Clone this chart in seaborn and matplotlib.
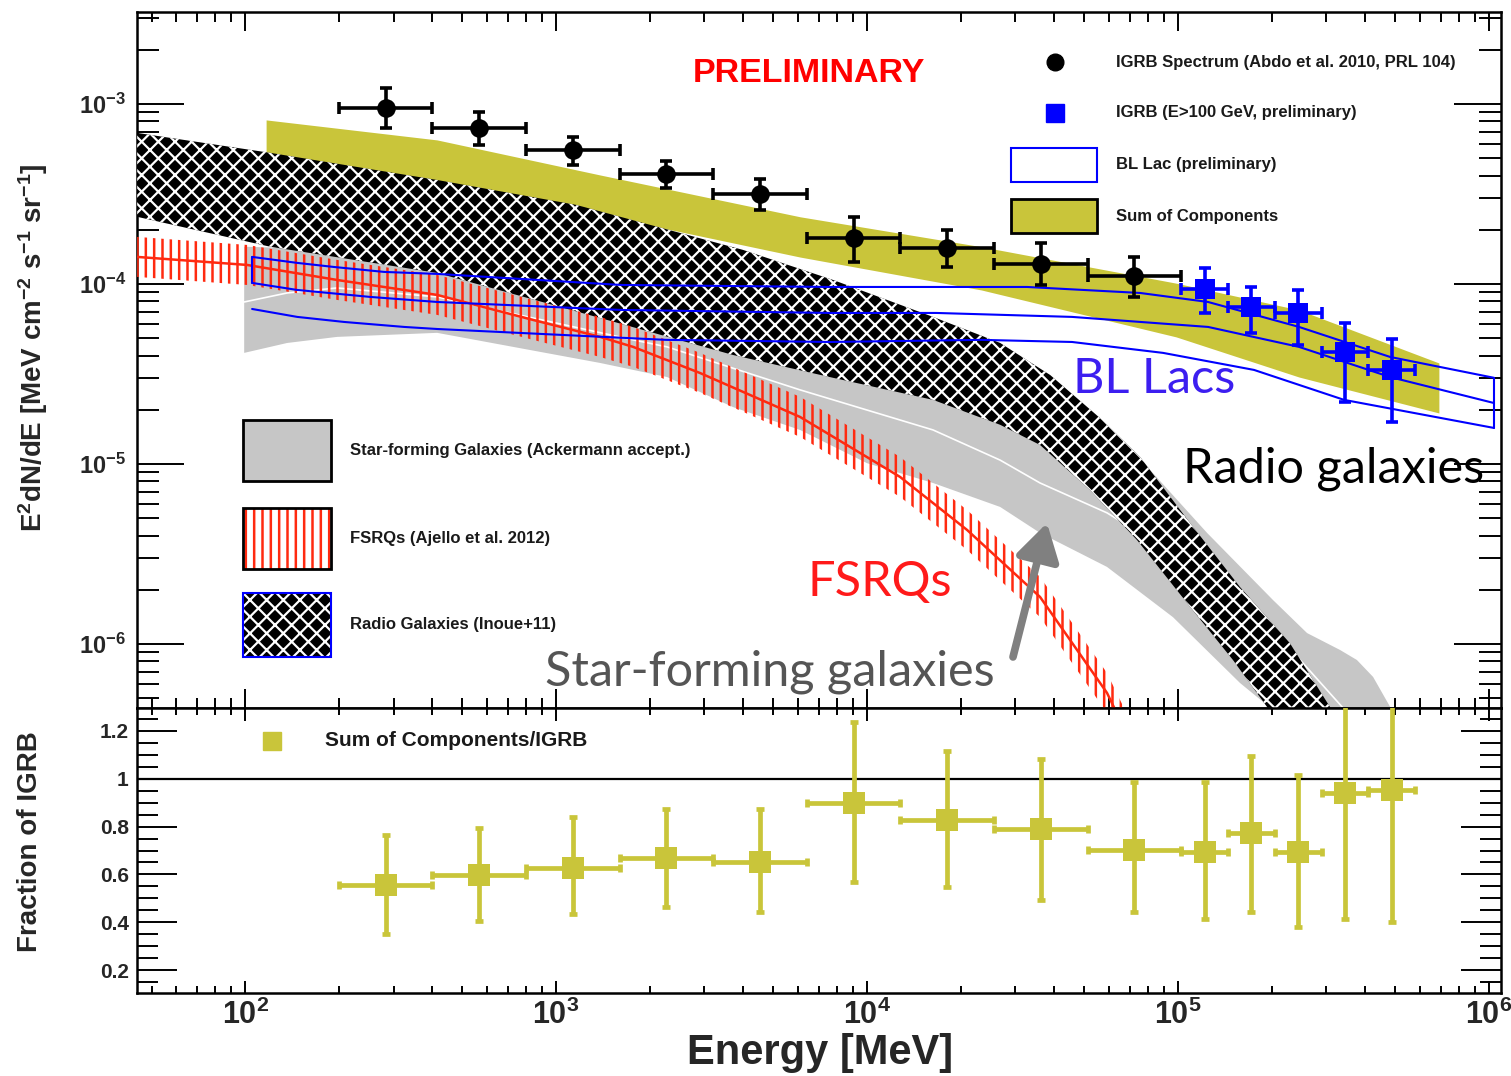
import numpy as np
import pandas as pd
import matplotlib
matplotlib.use("Agg")
import matplotlib.pyplot as plt
import seaborn as sns
from matplotlib.patches import Rectangle
from matplotlib.lines import Line2D
from matplotlib.ticker import LogLocator, NullFormatter, MultipleLocator

# ---------------------------------------------------------------- data
# IGRB spectrum (Abdo et al. 2010): energy bins [MeV] and E^2 dN/dE
igrb_lo = [200, 400, 800, 1600, 3200, 6400, 12800, 25600, 51200]
igrb_hi = [400, 800, 1600, 3200, 6400, 12800, 25600, 51200, 102400]
igrb_E = [283, 566, 1131, 2263, 4525, 9051, 18102, 36204, 72408]
igrb_F = [9.5e-4, 7.36e-4, 5.55e-4, 4.08e-4, 3.16e-4, 1.80e-4, 1.585e-4, 1.29e-4, 1.107e-4]
igrb_Fhi = [1.23e-3, 9.0e-4, 6.56e-4, 4.82e-4, 3.83e-4, 2.35e-4, 2.0e-4, 1.69e-4, 1.41e-4]
igrb_Flo = [7.36e-4, 5.92e-4, 4.58e-4, 3.41e-4, 2.58e-4, 1.32e-4, 1.24e-4, 9.9e-5, 8.5e-5]

# IGRB E>100 GeV (preliminary)
hi_lo = [1.024e5, 1.448e5, 2.048e5, 2.896e5, 4.096e5]
hi_hi = [1.448e5, 2.048e5, 2.896e5, 4.096e5, 5.792e5]
hi_E = [1.218e5, 1.722e5, 2.435e5, 3.444e5, 4.871e5]
hi_F = [9.38e-5, 7.45e-5, 6.9e-5, 4.19e-5, 3.33e-5]
hi_Fhi = [1.23e-4, 9.62e-5, 9.27e-5, 6.07e-5, 4.95e-5]
hi_Flo = [6.9e-5, 5.35e-5, 4.58e-5, 2.21e-5, 1.71e-5]

# Sum of components band
sum_E = [116.8, 414, 1385, 6095, 2.33e4, 9.86e4, 2.45e5, 6.9e5]
sum_top = [8.15e-4, 6.31e-4, 4.03e-4, 2.36e-4, 1.61e-4, 1.01e-4, 7.17e-5, 3.64e-5]
sum_bot = [4.58e-4, 3.69e-4, 2.42e-4, 1.41e-4, 9.26e-5, 5.08e-5, 3.04e-5, 1.92e-5]

# Radio galaxies (Inoue+11) band
rg_top_E = [44.96, 120.3, 414.4, 1159, 3994, 7777, 1.63e4, 2.68e4, 3.88e4, 5.61e4,
            7.55e4, 1.093e5, 1.583e5, 2.29e5, 3.08e5, 4.11e5]
rg_top_F = [6.9e-4, 5.35e-4, 3.78e-4, 2.75e-4, 1.545e-4, 1.052e-4, 6.56e-5, 4.7e-5, 3.12e-5,
            1.80e-5, 1.094e-5, 4.7e-6, 2.07e-6, 1.01e-6, 4.47e-7, 2.0e-7]
rg_bot_E = [44.96, 120.3, 414.4, 1385, 3708, 7777, 1.63e4, 2.68e4, 3.6e4, 5.21e4,
            7.38e4, 1.093e5, 1.502e5, 1.933e5, 2.718e5]
rg_bot_F = [2.36e-4, 1.61e-4, 1.151e-4, 6.47e-5, 4.03e-5, 3.01e-5, 2.27e-5, 1.65e-5, 1.275e-5,
            7.17e-6, 3.78e-6, 1.61e-6, 8.15e-7, 4.47e-7, 2.0e-7]

# Star-forming galaxies band and its central curve
sf_top_E = [99.3, 217.6, 414.4, 1385, 3708, 7777, 1.63e4, 2.68e4, 5.21e4, 8.13e4, 1.24e5,
            2.02e5, 2.6e5, 3.32e5, 3.76e5, 4.24e5, 4.81e5, 5.17e5]
sf_top_F = [1.61e-4, 1.545e-4, 1.45e-4, 9.26e-5, 5.55e-5, 3.78e-5, 2.93e-5, 2.27e-5, 1.545e-5,
            9.26e-6, 4.14e-6, 1.755e-6, 1.15e-6, 9.26e-7, 8.15e-7, 6.56e-7, 4.47e-7, 2.27e-7]
sf_bot_E = [99.3, 136.5, 197.6, 414.4, 1385, 2275, 3708, 6088, 1.0e4, 1.63e4, 2.68e4, 3.6e4,
            5.91e4, 9.63e4, 1.583e5, 2.02e5, 2.21e5]
sf_bot_F = [4.14e-5, 4.7e-5, 5.08e-5, 5.35e-5, 3.64e-5, 3.04e-5, 2.07e-5, 1.545e-5, 1.01e-5,
            7.84e-6, 5.77e-6, 4.14e-6, 2.68e-6, 1.41e-6, 6.07e-7, 4.3e-7, 2.27e-7]
sf_mid_E = [99.3, 136.5, 197.6, 414.4, 843, 1769, 2275, 6088, 1.63e4, 2.68e4, 3.6e4, 5.91e4,
            1.177e5, 2.47e5, 3.44e5]
sf_mid_F = [7.94e-5, 8.91e-5, 9.5e-5, 8.47e-5, 6.47e-5, 4.89e-5, 4.47e-5, 2.58e-5, 1.545e-5,
            1.05e-5, 7.84e-6, 5.35e-6, 2.58e-6, 8.15e-7, 4.3e-7]

# FSRQs (Ajello et al. 2012)
fsrq_E = [44.96, 101.5, 197.6, 414.4, 843, 1385, 1769, 2904, 6088, 1.277e4, 2.097e4, 3.6e4, 5.91e4, 6.75e4]
fsrq_F = [1.413e-4, 1.275e-4, 1.052e-4, 8.69e-5, 6.31e-5, 5.08e-5, 4.47e-5, 3.2e-5, 1.825e-5,
          8.47e-6, 4.3e-6, 1.825e-6, 5.35e-7, 3.33e-7]
fsrq_hi = [1.825e-4, 1.647e-4, 1.36e-4, 1.122e-4, 8.15e-5, 6.56e-5, 5.77e-5, 4.14e-5, 2.36e-5,
           1.094e-5, 5.55e-6, 2.36e-6, 6.9e-7, 4.3e-7]
fsrq_lo = [1.094e-4, 9.87e-5, 8.15e-5, 6.73e-5, 4.89e-5, 3.93e-5, 3.46e-5, 2.48e-5, 1.413e-5,
           6.56e-6, 3.33e-6, 1.41e-6, 4.14e-7, 2.58e-7]

# BL Lac (preliminary) band: upper, central, lower curves
bl_top_E = [105.3, 147, 193.3, 280, 414.4, 1618, 7603, 3.27e4, 7.55e4, 1.249e5, 2.45e5, 4.81e5, 1.038e6]
bl_top_F = [1.413e-4, 1.309e-4, 1.242e-4, 1.166e-4, 1.137e-4, 9.87e-5, 9.62e-5, 9.62e-5, 8.91e-5,
            7.94e-5, 5.77e-5, 3.93e-5, 3.01e-5]
bl_mid_E = [105.3, 147, 252.4, 414.4, 1618, 7603, 1.667e4, 4.562e4, 1.249e5, 2.45e5, 4.81e5, 1.038e6]
bl_mid_F = [1.013e-4, 9.26e-5, 8.47e-5, 7.94e-5, 7.17e-5, 6.9e-5, 6.9e-5, 6.56e-5, 5.77e-5,
            4.47e-5, 3.04e-5, 2.18e-5]
bl_bot_E = [105.3, 147, 208.1, 324.6, 414.4, 2258, 7603, 2.326e4, 4.562e4, 8.95e4, 1.755e5, 3.42e5, 1.038e6]
bl_bot_F = [7.26e-5, 6.56e-5, 6.15e-5, 5.77e-5, 5.62e-5, 4.89e-5, 4.76e-5, 4.89e-5, 4.76e-5,
            4.14e-5, 3.33e-5, 2.27e-5, 1.585e-5]

# Sum of components / IGRB
ratio_val = [0.554, 0.596, 0.629, 0.667, 0.654, 0.90, 0.829, 0.788, 0.704, 0.692, 0.771, 0.692, 0.942, 0.954]
ratio_hi = [0.763, 0.796, 0.838, 0.875, 0.875, 1.238, 1.117, 1.083, 0.988, 0.988, 1.096, 1.017, 1.45, 1.45]
ratio_lo = [0.35, 0.404, 0.433, 0.463, 0.442, 0.567, 0.546, 0.492, 0.442, 0.413, 0.442, 0.379, 0.413, 0.40]

xtick_vals = [1e2, 1e3, 1e4, 1e5, 1e6]
xtick_labels = [r"$\mathbf{10^{2}}$", r"$\mathbf{10^{3}}$", r"$\mathbf{10^{4}}$",
                r"$\mathbf{10^{5}}$", r"$\mathbf{10^{6}}$"]
ytick_vals = [1e-6, 1e-5, 1e-4, 1e-3]
ytick_labels = [r"$\mathbf{10^{-6}}$", r"$\mathbf{10^{-5}}$", r"$\mathbf{10^{-4}}$", r"$\mathbf{10^{-3}}$"]
rtick_vals = [0.2, 0.4, 0.6, 0.8, 1.0, 1.2]
rtick_labels = ["0.2", "0.4", "0.6", "0.8", "1", "1.2"]

# ---------------------------------------------------------------- style
OLIVE = "#c9c53a"
GRAY = "#c6c6c6"
RED = "#ff2a10"
BLUE = "#0000ff"
RG_HATCH, RG_HLW = "xx", 1.6
FQ_HATCH, FQ_HLW = "||", 1.8

sns.set_theme(style="ticks")
plt.rcParams.update({
    "font.family": ["Liberation Sans", "DejaVu Sans"],
    "mathtext.fontset": "custom",
    "mathtext.rm": "Liberation Sans",
    "mathtext.bf": "Liberation Sans:bold",
    "mathtext.it": "Liberation Sans:italic",
    "hatch.linewidth": 1.7,
    "axes.linewidth": 1.8,
    "axes.edgecolor": "black",
})

W, H = 1511, 1076
fig = plt.figure(figsize=(W / 100, H / 100), dpi=100)


def fx(x):
    return x / W


def fy(y):
    return 1 - y / H


def hatch_lw(artist, lw):
    if hasattr(artist, "set_hatch_linewidth"):
        artist.set_hatch_linewidth(lw)


ax1 = fig.add_axes([fx(137), fy(708), fx(1501) - fx(137), fy(12) - fy(708)])
ax2 = fig.add_axes([fx(137), fy(993), fx(1501) - fx(137), fy(708) - fy(993)])
for ax in (ax1, ax2):
    ax.set_xscale("log")
    ax.set_xlim(44.9, 1.093e6)
ax1.set_yscale("log")
ax1.set_ylim(4.41e-7, 3.24e-3)
ax2.set_ylim(0.105, 1.295)

# ---------------------------------------------------------------- top panel
ax1.fill_between(sum_E, sum_bot, sum_top, color=OLIVE, lw=0, zorder=1)

ax1.fill(list(sf_top_E) + list(sf_bot_E)[::-1], list(sf_top_F) + list(sf_bot_F)[::-1],
         facecolor=GRAY, edgecolor="none", lw=0, zorder=2)
ax1.plot(sf_mid_E, sf_mid_F, color="white", lw=1.2, zorder=2.5)

with plt.rc_context({"hatch.linewidth": RG_HLW}):
    rg = ax1.fill(list(rg_top_E) + list(rg_bot_E)[::-1], list(rg_top_F) + list(rg_bot_F)[::-1],
                  facecolor="black", edgecolor="white", hatch=RG_HATCH, lw=0, zorder=3)[0]
hatch_lw(rg, RG_HLW)

with plt.rc_context({"hatch.linewidth": FQ_HLW}):
    fq = ax1.fill_between(fsrq_E, fsrq_lo, fsrq_hi, facecolor="none", edgecolor=RED,
                          hatch=FQ_HATCH, lw=0, zorder=4)
hatch_lw(fq, FQ_HLW)
ax1.plot(fsrq_E, fsrq_F, color=RED, lw=1.8, zorder=4)

for xs, ys in ((bl_top_E, bl_top_F), (bl_mid_E, bl_mid_F), (bl_bot_E, bl_bot_F)):
    ax1.plot(xs, ys, color=BLUE, lw=1.5, zorder=5)
ax1.plot([bl_top_E[-1], bl_bot_E[-1]], [bl_top_F[-1], bl_bot_F[-1]], color=BLUE, lw=1.5, zorder=5)
ax1.plot([bl_top_E[0], bl_mid_E[0]], [bl_top_F[0], bl_mid_F[0]], color=BLUE, lw=1.5, zorder=5)

igrb_E_a = np.array(igrb_E, float)
igrb_F_a = np.array(igrb_F, float)
ax1.errorbar(igrb_E_a, igrb_F_a,
             xerr=[igrb_E_a - np.array(igrb_lo), np.array(igrb_hi) - igrb_E_a],
             yerr=[igrb_F_a - np.array(igrb_Flo), np.array(igrb_Fhi) - igrb_F_a],
             fmt="none", ecolor="black", elinewidth=2.6, capsize=4, capthick=2.6, zorder=6)
df_igrb = pd.DataFrame({"E": igrb_E, "F": igrb_F})
sns.scatterplot(data=df_igrb, x="E", y="F", ax=ax1, color="black", marker="o", s=180,
                edgecolor="black", linewidth=0, zorder=7, legend=False)

hi_E_a = np.array(hi_E, float)
hi_F_a = np.array(hi_F, float)
ax1.errorbar(hi_E_a, hi_F_a,
             xerr=[hi_E_a - np.array(hi_lo), np.array(hi_hi) - hi_E_a],
             yerr=[hi_F_a - np.array(hi_Flo), np.array(hi_Fhi) - hi_F_a],
             fmt="none", ecolor=BLUE, elinewidth=2.6, capsize=4, capthick=2.6, zorder=6)
df_hi = pd.DataFrame({"E": hi_E, "F": hi_F})
sns.scatterplot(data=df_hi, x="E", y="F", ax=ax1, color=BLUE, marker="s", s=200,
                edgecolor=BLUE, linewidth=0, zorder=7, legend=False)

# ---------------------------------------------------------------- bottom panel
ratio_E = np.array(igrb_E + hi_E, float)
ratio_lo_E = np.array(igrb_lo + hi_lo, float)
ratio_hi_E = np.array(igrb_hi + hi_hi, float)
rv = np.array(ratio_val)
ax2.axhline(1.0, color="black", lw=1.6, zorder=1)
ax2.errorbar(ratio_E, rv, xerr=[ratio_E - ratio_lo_E, ratio_hi_E - ratio_E],
             yerr=[rv - np.array(ratio_lo), np.array(ratio_hi) - rv],
             fmt="none", ecolor=OLIVE, elinewidth=3.4, capsize=3, capthick=3.4, zorder=3)
df_r = pd.DataFrame({"E": ratio_E, "R": rv})
sns.scatterplot(data=df_r, x="E", y="R", ax=ax2, color=OLIVE, marker="s", s=230,
                edgecolor=OLIVE, linewidth=0, zorder=4, legend=False)

# ---------------------------------------------------------------- axes styling
for ax in (ax1, ax2):
    ax.set_xlabel("")
    ax.set_ylabel("")
    ax.xaxis.set_minor_locator(LogLocator(base=10, subs=np.arange(2, 10), numticks=50))
    ax.xaxis.set_minor_formatter(NullFormatter())
    for s in ax.spines.values():
        s.set_linewidth(1.8)
        s.set_color("black")
    ax.tick_params(which="both", direction="in", top=True, right=True, bottom=True, left=True,
                   color="black", width=1.4)

ax1.set_xticks(xtick_vals)
ax1.tick_params(axis="x", labelbottom=False)
ax1.tick_params(axis="x", which="major", length=14)
ax1.tick_params(axis="x", which="minor", length=7)
ax1.set_yticks(ytick_vals)
ax1.set_yticklabels(ytick_labels, fontsize=17)
ax1.yaxis.set_minor_locator(LogLocator(base=10, subs=np.arange(2, 10), numticks=50))
ax1.yaxis.set_minor_formatter(NullFormatter())
ax1.tick_params(axis="y", which="major", length=34, pad=8)
ax1.tick_params(axis="y", which="minor", length=16)
ax1.set_xlim(44.9, 1.093e6)
ax1.set_ylim(4.41e-7, 3.24e-3)

ax2.set_xticks(xtick_vals)
ax2.set_xticklabels(xtick_labels, fontsize=22)
ax2.tick_params(axis="x", which="major", length=9, pad=5)
ax2.tick_params(axis="x", which="minor", length=5)
ax2.set_yticks(rtick_vals)
ax2.set_yticklabels(rtick_labels, fontsize=15, fontweight="bold")
ax2.yaxis.set_minor_locator(MultipleLocator(0.05))
ax2.tick_params(axis="y", which="major", length=29, pad=6)
ax2.tick_params(axis="y", which="minor", length=15)
ax2.set_xlim(44.9, 1.093e6)
ax2.set_ylim(0.105, 1.295)

# ---------------------------------------------------------------- axis titles
fig.text(fx(33), fy(348), r"$\mathbf{E^{2}dN/dE\ [MeV\ cm^{-2}\ s^{-1}\ sr^{-1}]}$",
         rotation=90, ha="center", va="center", fontsize=20)
fig.text(fx(30), fy(842), "Fraction of IGRB", rotation=90, ha="center", va="center",
         fontsize=20, fontweight="bold")
fig.text(fx(820), fy(1053), "Energy [MeV]", ha="center", va="center", fontsize=30,
         fontweight="bold")

# ---------------------------------------------------------------- legends
LEG = "#1a1a1a"
fig.add_artist(Line2D([fx(1055)], [fy(62)], marker="o", ms=12, color="black", mec="black",
                      transform=fig.transFigure))
fig.add_artist(Line2D([fx(1055)], [fy(113)], marker="s", ms=13, color=BLUE, mec=BLUE,
                      transform=fig.transFigure))
fig.add_artist(Rectangle((fx(1011), fy(182)), fx(1097) - fx(1011), fy(148) - fy(182),
                         transform=fig.transFigure, facecolor="white", edgecolor=BLUE, lw=1.5))
fig.add_artist(Rectangle((fx(1011), fy(233)), fx(1097) - fx(1011), fy(199) - fy(233),
                         transform=fig.transFigure, facecolor=OLIVE, edgecolor="black", lw=2))
for yy, txt in ((62, "IGRB Spectrum (Abdo et al. 2010, PRL 104)"),
                (113, "IGRB (E>100 GeV, preliminary)"),
                (165, "BL Lac (preliminary)"),
                (216, "Sum of Components")):
    fig.text(fx(1116), fy(yy), txt, ha="left", va="center", fontsize=12, fontweight="bold", color=LEG)

fig.add_artist(Rectangle((fx(243), fy(481)), fx(331) - fx(243), fy(420) - fy(481),
                         transform=fig.transFigure, facecolor=GRAY, edgecolor="black", lw=2))
with plt.rc_context({"hatch.linewidth": FQ_HLW}):
    r_fq = Rectangle((fx(243), fy(569)), fx(331) - fx(243), fy(508) - fy(569),
                     transform=fig.transFigure, facecolor="white", edgecolor=RED, hatch=FQ_HATCH, lw=0)
hatch_lw(r_fq, FQ_HLW)
fig.add_artist(r_fq)
fig.add_artist(Rectangle((fx(243), fy(569)), fx(331) - fx(243), fy(508) - fy(569),
                         transform=fig.transFigure, fill=False, edgecolor="black", lw=2))
with plt.rc_context({"hatch.linewidth": RG_HLW}):
    r_rg = Rectangle((fx(243), fy(657)), fx(331) - fx(243), fy(593) - fy(657),
                     transform=fig.transFigure, facecolor="black", edgecolor="white", hatch=RG_HATCH, lw=0)
hatch_lw(r_rg, RG_HLW)
fig.add_artist(r_rg)
fig.add_artist(Rectangle((fx(243), fy(657)), fx(331) - fx(243), fy(593) - fy(657),
                         transform=fig.transFigure, fill=False, edgecolor=BLUE, lw=1.5))
for yy, txt in ((450, "Star-forming Galaxies (Ackermann accept.)"),
                (538, "FSRQs (Ajello et al. 2012)"),
                (625, "Radio Galaxies (Inoue+11)")):
    fig.text(fx(350), fy(yy), txt, ha="left", va="center", fontsize=12, fontweight="bold", color=LEG)

fig.add_artist(Line2D([fx(272)], [fy(741)], marker="s", ms=13, color=OLIVE, mec=OLIVE,
                      transform=fig.transFigure))
fig.text(fx(325), fy(741), "Sum of Components/IGRB", ha="left", va="center", fontsize=15,
         fontweight="bold", color=LEG)

# ---------------------------------------------------------------- annotations
fig.text(fx(809), fy(82), "PRELIMINARY", ha="center", va="baseline", fontsize=24.5,
         fontweight="bold", color="#ff0000",
         family=["Liberation Sans Narrow", "Liberation Sans", "DejaVu Sans"])
ANN = ["Lato", "DejaVu Sans"]
fig.text(fx(1073), fy(393), "BL Lacs", ha="left", va="baseline", fontsize=35,
         color="#3c1ef0", family=ANN)
fig.text(fx(1183), fy(482), "Radio galaxies", ha="left", va="baseline", fontsize=35,
         color="black", family=ANN)
fig.text(fx(807), fy(596), "FSRQs", ha="left", va="baseline", fontsize=35,
         color="#ff1a1a", family=ANN)
fig.text(fx(545), fy(685), "Star-forming galaxies", ha="left", va="baseline", fontsize=35,
         color="#555555", family=ANN)
fig.add_artist(matplotlib.patches.FancyArrowPatch(
    (fx(1013), fy(657)), (fx(1047), fy(523)), transform=fig.transFigure,
    arrowstyle="-|>,head_length=1.0,head_width=0.6", mutation_scale=22,
    color="#808080", lw=5.5, shrinkA=0, shrinkB=0))

fig.savefig("out.png", dpi=100, facecolor="white")
